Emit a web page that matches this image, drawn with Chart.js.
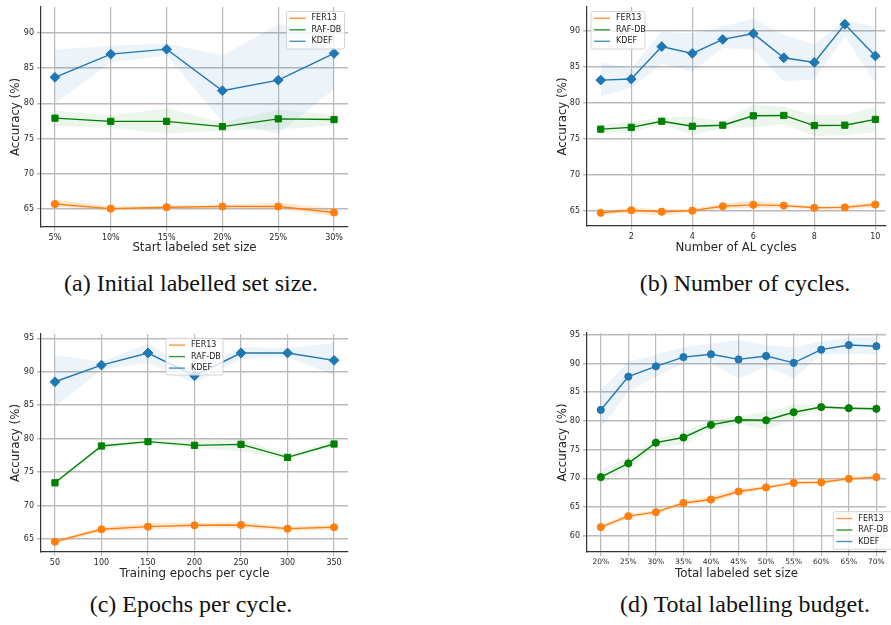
<!DOCTYPE html>
<html lang="en">
<head>
  <meta charset="UTF-8">
  <title>Active learning ablations</title>
  <script src="https://cdn.jsdelivr.net/npm/chart.js"></script>
  <style>
    body { margin: 0; background: #fff; width: 891px; height: 625px; position: relative; overflow: hidden; }
    canvas { position: absolute; }
    .cap {
      position: absolute; white-space: nowrap; transform: translate(-50%, -50%);
      font-family: "Liberation Serif", serif; font-size: 24px; color: #111;
    }
  </style>
</head>
<body>
  <canvas id="chartA" width="360" height="257" style="left:0;top:0"></canvas>
  <canvas id="chartB" width="346" height="257" style="left:545px;top:0"></canvas>
  <canvas id="chartC" width="360" height="263" style="left:0;top:320px"></canvas>
  <canvas id="chartD" width="346" height="263" style="left:545px;top:320px"></canvas>

  <div class="cap" style="left:191px;top:283px">(a) Initial labelled set size.</div>
  <div class="cap" style="left:745px;top:283px">(b) Number of cycles.</div>
  <div class="cap" style="left:191px;top:604px">(c) Epochs per cycle.</div>
  <div class="cap" style="left:745px;top:604px">(d) Total labelling budget.</div>

  <script>
    const seriesNames = ['FER13', 'RAF-DB', 'KDEF'];
    const seriesColors = ['#ff7f0e', '#008000', '#1f77b4'];
    const bandColors = ['rgba(255,127,14,0.18)', 'rgba(0,128,0,0.07)', 'rgba(31,119,180,0.08)'];

    // (a) start labeled set size
    const startSizes = [5, 10, 15, 20, 25, 30];
    const aFer = [65.7, 65.05, 65.25, 65.35, 65.35, 64.5];
    const aFerLo = [65.3, 64.8, 65.0, 65.1, 65.0, 64.0];
    const aFerHi = [66.3, 65.4, 65.5, 65.6, 65.9, 65.1];
    const aRaf = [77.9, 77.45, 77.45, 76.7, 77.8, 77.7];
    const aRafLo = [76.8, 76.5, 75.7, 76.1, 76.3, 76.9];
    const aRafHi = [79.0, 78.3, 79.3, 77.3, 79.1, 78.4];
    const aKdef = [83.7, 87.0, 87.7, 81.8, 83.3, 87.1];
    const aKdefLo = [80.0, 85.8, 86.8, 77.4, 75.7, 82.0];
    const aKdefHi = [87.6, 88.2, 88.5, 86.8, 91.2, 91.1];

    // (b) number of AL cycles
    const cycles = [1, 2, 3, 4, 5, 6, 7, 8, 9, 10];
    const bFer = [64.75, 65.1, 64.9, 65.05, 65.65, 65.85, 65.75, 65.45, 65.5, 65.9];
    const bFerLo = [64.5, 64.7, 64.4, 64.8, 65.3, 65.4, 65.5, 65.2, 65.2, 65.5];
    const bFerHi = [65.0, 65.5, 65.2, 65.3, 66.0, 66.5, 66.0, 65.7, 65.8, 66.3];
    const bRaf = [76.35, 76.6, 77.45, 76.75, 76.9, 78.2, 78.25, 76.85, 76.9, 77.7];
    const bRafLo = [75.9, 75.8, 77.1, 75.5, 76.5, 76.6, 77.0, 75.4, 75.5, 75.9];
    const bRafHi = [76.9, 77.4, 77.9, 78.1, 77.4, 79.7, 79.5, 78.3, 78.3, 79.5];
    const bKdef = [83.15, 83.3, 87.8, 86.85, 88.8, 89.6, 86.25, 85.6, 90.9, 86.5];
    const bKdefLo = [80.9, 82.1, 85.4, 84.3, 87.6, 87.4, 83.0, 83.2, 89.2, 82.7];
    const bKdefHi = [85.6, 84.8, 89.9, 89.6, 90.6, 91.7, 89.4, 88.1, 91.4, 90.6];

    // (c) training epochs per cycle
    const epochs = [50, 100, 150, 200, 250, 300, 350];
    const cFer = [64.6, 66.45, 66.85, 67.05, 67.1, 66.55, 66.75];
    const cFerLo = [64.3, 66.1, 66.4, 66.7, 66.7, 66.2, 66.4];
    const cFerHi = [64.9, 66.8, 67.4, 67.4, 67.5, 66.9, 67.1];
    const cRaf = [73.4, 78.9, 79.55, 79.0, 79.15, 77.2, 79.2];
    const cRafLo = [73.1, 78.5, 79.2, 78.6, 78.1, 76.9, 78.8];
    const cRafHi = [73.7, 79.2, 80.0, 79.8, 80.0, 77.6, 79.8];
    const cKdef = [88.5, 91.0, 92.8, 89.4, 92.8, 92.8, 91.7];
    const cKdefLo = [84.8, 90.3, 91.3, 88.3, 91.9, 92.2, 89.5];
    const cKdefHi = [92.5, 91.5, 94.2, 90.3, 93.7, 93.5, 94.3];

    // (d) total labeled set size
    const budgets = [20, 25, 30, 35, 40, 45, 50, 55, 60, 65, 70];
    const dFer = [61.5, 63.4, 64.1, 65.7, 66.3, 67.7, 68.4, 69.2, 69.3, 69.9, 70.2];
    const dFerLo = [61.1, 63.0, 63.8, 65.4, 65.8, 67.2, 68.1, 68.9, 69.0, 69.6, 69.9];
    const dFerHi = [61.9, 63.8, 64.4, 66.0, 66.9, 68.2, 68.7, 69.5, 69.6, 70.2, 70.5];
    const dRaf = [70.2, 72.6, 76.2, 77.1, 79.3, 80.2, 80.1, 81.5, 82.4, 82.2, 82.1];
    const dRafLo = [69.0, 71.5, 75.4, 75.9, 78.5, 79.4, 78.5, 80.2, 82.1, 81.9, 81.8];
    const dRafHi = [71.5, 73.7, 76.9, 78.2, 80.1, 80.8, 81.6, 82.9, 82.7, 82.5, 82.4];
    const dKdef = [81.9, 87.7, 89.5, 91.1, 91.6, 90.7, 91.3, 90.1, 92.4, 93.2, 93.0];
    const dKdefLo = [78.7, 85.1, 87.7, 90.0, 90.0, 87.4, 89.4, 87.4, 91.5, 91.7, 91.5];
    const dKdefHi = [85.4, 90.3, 91.5, 92.8, 93.5, 94.1, 93.2, 92.8, 93.8, 94.5, 94.5];

    const yTicksA = [65, 70, 75, 80, 85, 90];
    const yTicksC = [65, 70, 75, 80, 85, 90, 95];
    const yTicksD = [60, 65, 70, 75, 80, 85, 90, 95];
    const cycleTicks = [2, 4, 6, 8, 10];

    Chart.defaults.font.family = '"DejaVu Sans", sans-serif';
    Chart.defaults.color = '#262626';

    // legend box drawn inside the plot area, like matplotlib
    const boxLegend = {
      id: 'boxLegend',
      afterDatasetsDraw(chart, args, o) {
        const ctx = chart.ctx;
        ctx.save();
        ctx.beginPath();
        ctx.roundRect(o.x, o.y, o.w, o.h, 2);
        ctx.fillStyle = 'rgba(255,255,255,0.8)';
        ctx.fill();
        ctx.strokeStyle = '#d4d4d4';
        ctx.lineWidth = 1;
        ctx.stroke();
        ctx.font = '8px "DejaVu Sans"';
        ctx.textBaseline = 'middle';
        seriesNames.forEach((name, i) => {
          const y = o.y + 6.8 + i * 11.5;
          ctx.globalAlpha = 0.8;
          ctx.strokeStyle = seriesColors[i];
          ctx.lineWidth = 1.4;
          ctx.beginPath();
          ctx.moveTo(o.x + 3, y);
          ctx.lineTo(o.x + 19, y);
          ctx.stroke();
          ctx.globalAlpha = 1;
          ctx.fillStyle = '#222';
          ctx.fillText(name, o.x + 25, y);
        });
        ctx.restore();
      }
    };

    function pts(xs, ys) {
      return xs.map((x, i) => ({ x: x, y: ys[i] }));
    }

    function buildDatasets(xs, means, los, his, markers) {
      const sets = [];
      for (let k = 0; k < 3; k++) {
        sets.push({ data: pts(xs, his[k]), borderWidth: 0, pointRadius: 0, backgroundColor: bandColors[k], fill: '+1', order: 2 });
        sets.push({ data: pts(xs, los[k]), borderWidth: 0, pointRadius: 0, fill: false, order: 2 });
      }
      for (let k = 0; k < 3; k++) {
        const r = markers[k] === 'circle' ? 3.6 : (markers[k] === 'rect' ? 4.4 : 4.9);
        sets.push({
          data: pts(xs, means[k]), borderColor: seriesColors[k], backgroundColor: seriesColors[k],
          borderWidth: 1.4, pointStyle: markers[k], pointRadius: r, pointBorderWidth: 1,
          fill: false, tension: 0, order: 1
        });
      }
      return sets;
    }

    function makeChart(id, c) {
      const gridColor = '#bababa';
      new Chart(document.getElementById(id), {
        type: 'line',
        data: { datasets: buildDatasets(c.xs, c.means, c.los, c.his, c.markers) },
        options: {
          responsive: false,
          animation: false,
          events: [],
          layout: { padding: { top: c.padTop, right: c.padRight, left: 0, bottom: 0 } },
          plugins: { legend: { display: false }, tooltip: { enabled: false }, boxLegend: c.legend },
          scales: {
            x: {
              type: 'linear', min: c.xMin, max: c.xMax,
              afterBuildTicks: s => { s.ticks = c.xTicks.map(v => ({ value: v })); },
              afterFit: s => { s.height = c.xH; s.paddingLeft = 0; s.paddingRight = 0; },
              ticks: { callback: c.pct ? (v => v + '%') : (v => v), font: { size: c.xTickSize || 8 }, padding: 2, maxRotation: 0, autoSkip: false },
              grid: { color: gridColor, lineWidth: 1.2, tickLength: 4 },
              border: { color: '#333', width: 1.2 },
              title: { display: true, text: c.xTitle, font: { size: 11.8 }, padding: { top: 0, bottom: 2 } }
            },
            y: {
              min: c.yMin, max: c.yMax,
              afterBuildTicks: s => { s.ticks = c.yTicks.map(v => ({ value: v })); },
              afterFit: s => { s.width = c.yW; s.paddingTop = 0; s.paddingBottom = 0; },
              ticks: { font: { size: 8 }, padding: 3 },
              grid: { color: gridColor, lineWidth: 1.5, tickLength: 4 },
              border: { color: '#333', width: 1.2 },
              title: { display: true, text: 'Accuracy (%)', font: { size: 11.8 }, padding: { top: c.yTitlePad, bottom: 0 } }
            }
          }
        },
        plugins: [boxLegend]
      });
    }

    makeChart('chartA', {
      xs: startSizes, means: [aFer, aRaf, aKdef], los: [aFerLo, aRafLo, aKdefLo], his: [aFerHi, aRafHi, aKdefHi],
      markers: ['circle', 'rect', 'rectRot'], pct: true,
      xMin: 3.75, xMax: 31.25, xTicks: startSizes, yMin: 62.44, yMax: 93.69, yTicks: yTicksA,
      padTop: 7, padRight: 12, yW: 41, xH: 30, yTitlePad: 8.9,
      xTitle: 'Start labeled set size', legend: { x: 286.5, y: 11.5, w: 58, h: 37.5 }
    });

    makeChart('chartB', {
      xs: cycles, means: [bFer, bRaf, bKdef], los: [bFerLo, bRafLo, bKdefLo], his: [bFerHi, bRafHi, bKdefHi],
      markers: ['circle', 'rect', 'rectRot'], pct: false,
      xMin: 0.55, xMax: 10.32, xTicks: cycleTicks, yMin: 62.92, yMax: 93.29, yTicks: yTicksA,
      padTop: 7, padRight: 0, yW: 42, xH: 31, yTitlePad: 10.9,
      xTitle: 'Number of AL cycles', legend: { x: 46, y: 11.5, w: 54, h: 37.5 }
    });

    makeChart('chartC', {
      xs: epochs, means: [cFer, cRaf, cKdef], los: [cFerLo, cRafLo, cKdefLo], his: [cFerHi, cRafHi, cKdefHi],
      markers: ['circle', 'rect', 'rectRot'], pct: false,
      xMin: 35, xMax: 365, xTicks: epochs, yMin: 63.06, yMax: 95.64, yTicks: yTicksC,
      padTop: 14, padRight: 12, yW: 41, xH: 31, yTitlePad: 8.9,
      xTitle: 'Training epochs per cycle', legend: { x: 166, y: 18.3, w: 57, h: 36.7 }
    });

    makeChart('chartD', {
      xs: budgets, means: [dFer, dRaf, dKdef], los: [dFerLo, dRafLo, dKdefLo], his: [dFerHi, dRafHi, dKdefHi],
      markers: ['circle', 'circle', 'circle'], pct: true, xTickSize: 7.5,
      xMin: 17.5, xMax: 71.75, xTicks: budgets, yMin: 57.16, yMax: 95.3, yTicks: yTicksD,
      padTop: 13, padRight: 0, yW: 42, xH: 31, yTitlePad: 10.9,
      xTitle: 'Total labeled set size', legend: { x: 288.3, y: 191.7, w: 60, h: 37.6 }
    });
  </script>
</body>
</html>
